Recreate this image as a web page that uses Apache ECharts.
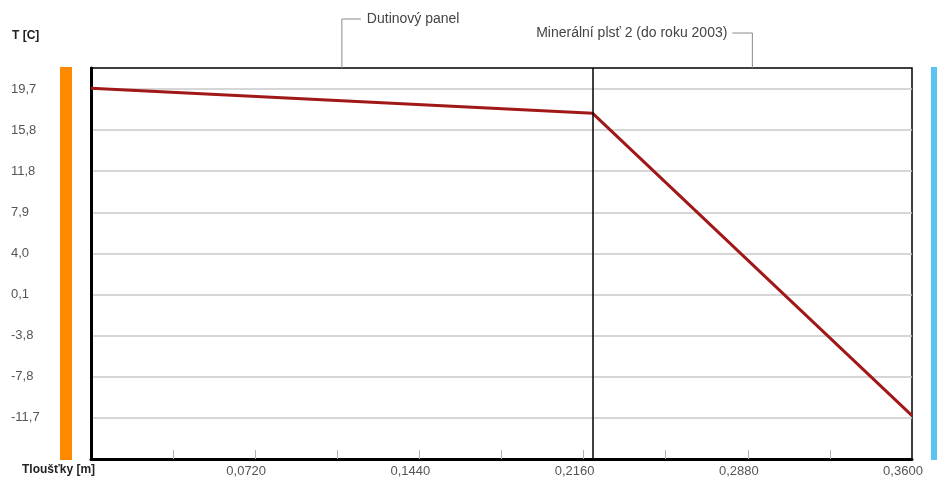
<!DOCTYPE html>
<html><head><meta charset="utf-8">
<script src="https://cdn.jsdelivr.net/npm/echarts@6/dist/echarts.min.js"></script>
<style>html,body{margin:0;padding:0;background:#fff}#c{width:937px;height:479px}</style>
</head><body><div id="c"></div>
<script>
// ---- data ----
const thickness = [0, 0.22, 0.36];                 // m
const temperature = [19.77, 17.37, -11.48];        // °C
const layerNames = ['Dutinový panel', 'Minerální plsť 2 (do roku 2003)'];
const layerBounds = [[0, 0.22], [0.22, 0.36]];
const layerBoundaries = [0.22];
const yTickValues = [19.7, 15.775, 11.85, 7.925, 4.0, 0.075, -3.85, -7.775, -11.7];
const yTickLabels = ['19,7', '15,8', '11,8', '7,9', '4,0', '0,1', '-3,8', '-7,8', '-11,7'];
const xTickValues = [0.036, 0.072, 0.108, 0.144, 0.18, 0.216, 0.252, 0.288, 0.324];
const xLabelValues = [0.072, 0.144, 0.216, 0.288, 0.36];
const xTickLabels = ['0,0720', '0,1440', '0,2160', '0,2880', '0,3600'];
const yMin = -15.625, yMax = 21.7;
const xMin = 0, xMax = 0.36;
const yTitle = 'T [C]';
const xTitle = 'Tloušťky [m]';

(function () {
function labelFor(values, labels, v) {
  let best = -1, bd = Infinity;
  values.forEach((t, i) => { const d = Math.abs(t - v); if (d < bd) { bd = d; best = i; } });
  return bd < 1e-6 ? labels[best] : '';
}

const FONT = '"Liberation Sans", Arial, sans-serif';
const chart = echarts.init(document.getElementById('c'), null, { renderer: 'canvas' });
const GRID = { left: 91, right: 25, top: 68, bottom: 20 };

chart.setOption({
  animation: false,
  backgroundColor: '#fff',
  grid: { left: GRID.left, right: GRID.right, top: GRID.top, bottom: GRID.bottom,
          show: true, borderColor: '#000', borderWidth: 1.5, containLabel: false },
  xAxis: {
    type: 'value', min: xMin, max: xMax,
    axisLine: { show: true, onZero: false, lineStyle: { color: '#000', width: 3 } },
    axisTick: { show: true, inside: true, length: 9, customValues: xTickValues,
                lineStyle: { color: '#b0b0b0', width: 1 } },
    axisLabel: { customValues: xLabelValues, margin: 5, color: '#555', fontSize: 13, fontFamily: FONT,
                 padding: [1, 18, 0, 0],
                 formatter: v => labelFor(xLabelValues, xTickLabels, v) },
    splitLine: { show: false }
  },
  yAxis: {
    type: 'value', min: yMin, max: yMax,
    axisLine: { show: true, onZero: false, lineStyle: { color: '#000', width: 3 } },
    axisTick: { show: false, customValues: yTickValues },
    axisLabel: { customValues: yTickValues, align: 'left', margin: 80, color: '#555', fontSize: 13, fontFamily: FONT,
                 padding: [4, 0, 0, 0],
                 formatter: v => labelFor(yTickValues, yTickLabels, v) },
    splitLine: { show: true, lineStyle: { color: '#c8c8c8', width: 1.5 } }
  },
  series: [{
    type: 'line',
    data: thickness.map((x, i) => [x, temperature[i]]),
    symbol: 'none',
    lineStyle: { color: '#a11818', width: 3 },
    z: 3,
    markLine: {
      silent: true, symbol: ['none', 'none'], label: { show: false },
      lineStyle: { color: '#000', width: 1.5, type: 'solid' },
      data: layerBoundaries.map(b => ({ xAxis: b }))
    }
  }]
});

// annotations placed through the chart's own scales
function px(x, y) { return chart.convertToPixel({ gridIndex: 0 }, [x, y]); }
const tl = px(xMin, yMax), br = px(xMax, yMin);
const pTop = tl[1], pBottom = br[1], pLeft = tl[0], pRight = br[0];
const g = [];
// interior / exterior side bars
g.push({ type: 'rect', shape: { x: pLeft - 31, y: pTop - 1, width: 12, height: pBottom - pTop + 2 },
         style: { fill: '#ff8a00' }, silent: true });
g.push({ type: 'rect', shape: { x: pRight + 19, y: pTop - 1, width: 12, height: pBottom - pTop + 2 },
         style: { fill: '#5cc4f2' }, silent: true });
// axis titles
g.push({ type: 'text', x: 12, y: pTop - 32, style: { text: yTitle, font: 'bold 12px ' + FONT, fill: '#222',
         textVerticalAlign: 'middle' } });
g.push({ type: 'text', x: 22, y: pBottom + 11, style: { text: xTitle, font: 'bold 12px ' + FONT, fill: '#222',
         textVerticalAlign: 'middle' } });
// layer callouts
layerNames.forEach((name, i) => {
  const mid = px((layerBounds[i][0] + layerBounds[i][1]) / 2, yMax)[0];
  const even = i % 2 === 0;
  const ly = even ? pTop - 49 : pTop - 35;
  const hx = even ? mid + 19 : mid - 20;
  g.push({ type: 'polyline', shape: { points: [[mid, pTop], [mid, ly], [hx, ly]] },
           style: { stroke: '#8a8a8a', lineWidth: 1, fill: null }, silent: true });
  g.push({ type: 'text', x: even ? hx + 6 : hx - 5, y: ly,
           style: { text: name, font: '14px ' + FONT, fill: '#444',
                    textAlign: even ? 'left' : 'right', textVerticalAlign: 'middle' } });
});
chart.setOption({ graphic: g });
})();
</script>
</body></html>
